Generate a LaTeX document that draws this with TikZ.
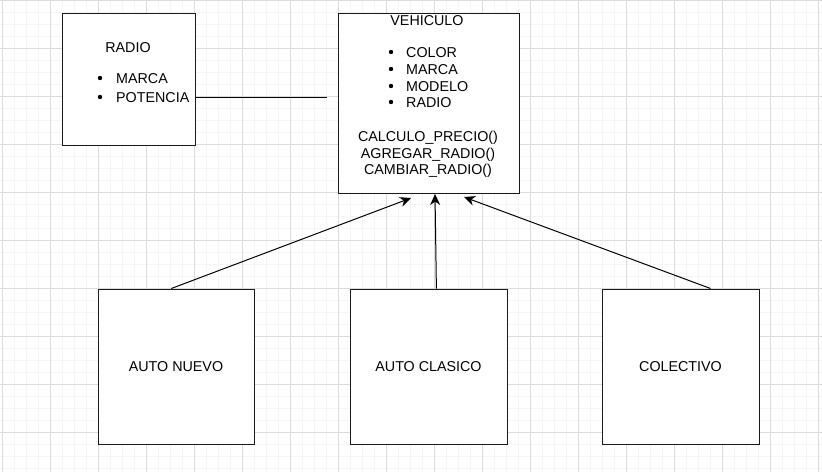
\documentclass[tikz,border=0pt]{standalone}
\usepackage{fontspec}
\setmainfont{Liberation Sans}
\usetikzlibrary{arrows.meta,calc}

\begin{document}
\begin{tikzpicture}[
  umlbox/.style    = {draw=black!90, fill=white, line width=1pt, inner sep=0pt},
  umltext/.style   = {inner sep=0pt, font=\fontsize{14.3}{17}\selectfont},
  umllink/.style   = {line width=1pt},
  umlarrow/.style  = {-{Stealth[length=11pt,width=10pt,inset=3.5pt]}, line width=1pt},
  gridminor/.style = {draw=black!4, line width=0.8pt},
  gridmajor/.style = {draw=black!14, line width=0.8pt},
  x=1pt, y=-1pt,
]
  \useasboundingbox (0,0) rectangle (822,472);

  % background grid
  \foreach \gx in {2,14,...,818} \draw[gridminor] (\gx,0) -- (\gx,472);
  \foreach \gy in {0,12,...,468} \draw[gridminor] (0,\gy) -- (822,\gy);
  \foreach \gx in {2,50,...,818} \draw[gridmajor] (\gx,0) -- (\gx,472);
  \foreach \gy in {0,48,...,432} \draw[gridmajor] (0,\gy) -- (822,\gy);

  % classes
  \node[umlbox, minimum width=133, minimum height=132] (radio)     at (128.5,79.0)  {};
  \node[umlbox, minimum width=181, minimum height=180] (vehiculo)  at (428.5,103.0) {};
  \node[umlbox, minimum width=156, minimum height=155, font=\fontsize{14.3}{17}\selectfont] (nuevo)     at (176.0,366.5) {AUTO NUEVO};
  \node[umlbox, minimum width=157, minimum height=155, font=\fontsize{14.3}{17}\selectfont] (clasico)   at (428.5,366.5) {AUTO CLASICO};
  \node[umlbox, minimum width=157, minimum height=155, font=\fontsize{14.3}{17}\selectfont] (colectivo) at (680.5,366.5) {COLECTIVO};

  % RADIO contents
  \node[umltext, anchor=base] (radiotitle) at (128,52) {RADIO};
  \foreach \itm/\iy [count=\ii] in {MARCA/83, POTENCIA/102} {
    \fill (100,\iy-5) circle (2.2);
    \node[umltext, anchor=base west] (radioitem\ii) at (116,\iy) {\itm};
  }

  % VEHICULO contents
  \node[umltext, anchor=base] (vehtitle) at (427,25) {VEHICULO};
  \foreach \itm/\iy [count=\ii] in {COLOR/57, MARCA/74, MODELO/91, RADIO/107} {
    \fill (391,\iy-5) circle (2.2);
    \node[umltext, anchor=base west] (vehitem\ii) at (406,\iy) {\itm};
  }
  \node[umltext, anchor=base] (vehop1) at (428,141) {CALCULO\_PRECIO()};
  \node[umltext, anchor=base] (vehop2) at (428,158) {AGREGAR\_RADIO()};
  \node[umltext, anchor=base] (vehop3) at (428,174) {CAMBIAR\_RADIO()};

  % association
  \coordinate (radioend) at (327,97);
  \draw[umllink] (radio.east |- radioend) -- (radioend);

  % inheritance
  \coordinate (tipnuevo)     at (411,198);
  \coordinate (tipclasico)   at (435,194);
  \coordinate (tipcolectivo) at (464,197);
  \draw[umlarrow] ($(nuevo.north west)!0.47!(nuevo.north east)$) -- (tipnuevo);
  \draw[umlarrow] ($(clasico.north west)!0.55!(clasico.north east)$) -- (tipclasico);
  \draw[umlarrow] ($(colectivo.north west)!0.69!(colectivo.north east)$) -- (tipcolectivo);
\end{tikzpicture}
\end{document}
